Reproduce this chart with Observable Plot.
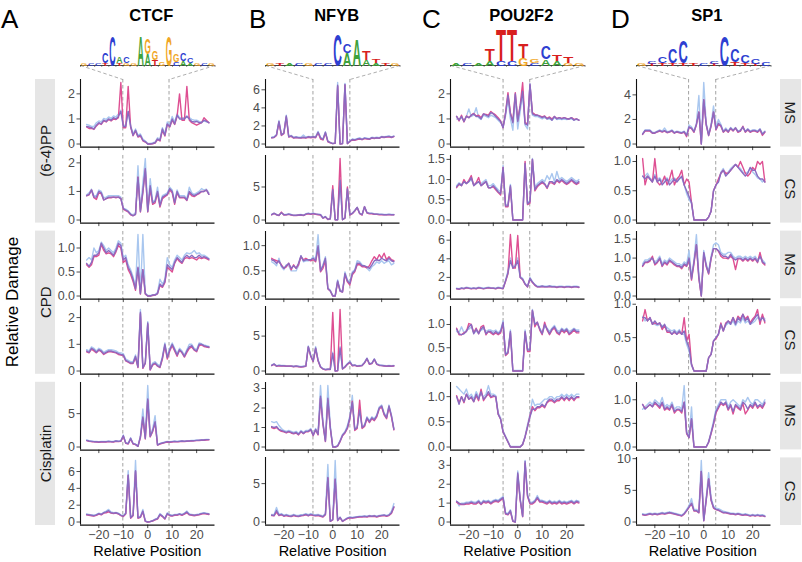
<!DOCTYPE html>
<html><head><meta charset="utf-8">
<script src="https://cdn.jsdelivr.net/npm/d3@7"></script>
<script src="https://cdn.jsdelivr.net/npm/@observablehq/plot@0.6"></script>
<style>
body{margin:0;background:#fff;}
#fig{position:relative;width:802px;height:562px;overflow:hidden;background:#fff;font-family:"Liberation Sans",Arial,sans-serif;}
#fig svg{position:absolute;}
</style></head>
<body><div id="fig"></div>
<script>
// ---------------- DATA ----------------
const positions = [-25,-24,-23,-22,-21,-20,-19,-18,-17,-16,-15,-14,-13,-12,-11,-10,-9,-8,-7,-6,-5,-4,-3,-2,-1,0,1,2,3,4,5,6,7,8,9,10,11,12,13,14,15,16,17,18,19,20,21,22,23,24,25];
const tfNames = ["CTCF","NFYB","POU2F2","SP1"];
const panelLetters = ["A","B","C","D"];
const damageNames = ["(6-4)PP","CPD","Cisplatin"];
const strandNames = ["MS","CS","MS","CS","MS","CS"];
const motifStart = [-10.2,-8.1,-6.0,-6.2];
const motifEnd = [8.7,7.0,4.9,4.9];
const xTicks = [-20,-10,0,10,20];
const yTicksCTCF = [[0,1,2],[0,1,2],[0,0.5,1],[0,1,2],[0,5],[0,2,4,6]];
const yTicksNFYB = [[0,2,4,6],[0,5],[0,0.5,1],[0,5],[0,1,2,3],[0,5]];
const yTicksPOU = [[0,1,2],[0,0.5,1,1.5],[0,2,4,6],[0,0.5,1],[0,0.5,1],[0,1,2,3]];
const yTicksSP1 = [[0,2,4],[0,0.5,1],[0,0.5,1,1.5],[0,0.5,1],[0,0.5,1],[0,5,10]];

// CTCF
const ctcf_pp_ms_mix = [0.7,0.68,0.65,0.6,0.75,0.85,0.8,0.95,0.9,1.0,0.95,1.05,1.0,1.1,1.3,0.7,0.7,1.3,0.7,0.35,0.55,0.3,0.35,0.15,0.1,0.0,0.0,0.02,0.05,0.2,0.15,0.6,0.35,0.8,0.7,1.0,0.8,1.15,1.0,1.0,1.0,1.1,1.0,0.9,0.88,0.9,0.85,0.85,0.95,0.9,0.85];
const ctcf_pp_ms_pink = [0.68,0.62,0.62,0.58,0.72,0.82,0.78,0.92,0.88,0.98,0.92,1.0,0.98,1.05,2.45,0.65,0.65,2.3,0.68,0.33,0.52,0.28,0.32,0.13,0.08,0.0,0.0,0.01,0.04,0.18,0.12,0.55,0.32,0.78,0.68,0.95,0.78,1.1,2.0,0.95,0.95,2.3,0.95,0.85,0.8,0.75,0.8,0.85,1.05,0.95,0.85];
const ctcf_pp_ms_blue = [0.78,0.75,0.7,0.7,0.85,0.92,0.88,1.02,0.98,1.08,1.02,1.12,1.08,1.2,1.35,0.75,0.75,1.3,0.75,0.4,0.6,0.35,0.4,0.2,0.12,0.02,0.02,0.04,0.08,0.25,0.2,0.65,0.42,0.88,0.78,1.1,0.88,1.2,1.05,1.05,1.05,1.12,1.05,0.98,0.95,0.95,0.9,0.88,0.92,0.88,0.85];
const ctcf_pp_cs_mix = [0.85,0.9,1.05,0.8,0.8,1.0,0.95,0.7,0.75,0.8,0.8,0.8,0.8,0.8,0.75,0.4,0.35,0.3,0.2,0.15,0.2,1.5,0.3,1.0,1.8,0.3,1.2,0.6,0.65,1.0,0.5,0.8,0.85,0.9,1.1,1.0,0.6,1.0,0.8,0.8,0.8,0.7,1.0,0.9,0.85,0.9,0.95,1.0,1.0,1.05,0.9];
const ctcf_pp_cs_pink = [0.85,0.88,1.05,0.78,0.72,0.95,0.92,0.7,0.75,0.78,0.78,0.8,0.78,0.8,0.75,0.38,0.33,0.28,0.18,0.15,0.2,1.5,0.28,0.95,1.75,0.28,1.1,0.55,0.6,0.95,0.45,0.75,0.82,0.88,1.05,0.95,0.55,0.95,0.78,0.78,0.78,0.68,0.95,0.85,0.82,0.88,0.92,1.0,1.0,1.05,0.9];
const ctcf_pp_cs_blue = [0.88,0.95,1.08,0.85,0.85,1.05,1.0,0.78,0.8,0.85,0.85,0.85,0.85,0.85,0.8,0.42,0.38,0.32,0.22,0.18,0.25,1.9,0.35,1.3,2.15,0.35,1.45,0.65,0.7,1.15,0.55,0.85,0.9,0.95,1.15,1.05,0.65,1.05,0.85,0.85,0.85,0.75,1.15,0.95,0.9,0.95,1.0,1.1,1.05,1.08,0.95];
const ctcf_cpd_ms_mix = [0.68,0.62,0.7,0.85,0.85,0.9,1.1,1.0,0.9,0.95,0.9,0.85,0.95,1.1,1.05,0.75,0.8,0.6,0.5,0.35,0.15,0.6,0.05,0.55,0.05,0.0,0.0,0.02,0.02,0.05,0.25,0.2,0.3,0.65,0.6,0.55,0.7,0.8,0.75,0.7,0.8,0.85,0.8,0.85,0.8,0.8,0.85,0.8,0.82,0.8,0.77];
const ctcf_cpd_ms_pink = [0.65,0.6,0.65,0.82,0.82,0.85,1.08,0.95,0.88,0.9,0.88,0.82,0.92,1.05,1.0,0.7,0.75,0.55,0.45,0.3,0.12,0.58,0.04,0.55,0.04,0.0,0.0,0.01,0.02,0.05,0.22,0.18,0.28,0.6,0.55,0.5,0.68,0.78,0.72,0.68,0.78,0.8,0.78,0.8,0.78,0.75,0.8,0.78,0.8,0.78,0.75];
const ctcf_cpd_ms_blue = [0.75,0.8,0.75,1.0,0.9,0.95,1.12,1.05,0.95,1.0,0.95,0.9,1.0,1.15,1.1,0.8,0.85,0.65,0.55,0.4,0.18,1.28,0.06,1.28,0.06,0.01,0.01,0.03,0.03,0.08,0.35,0.25,0.35,0.8,0.65,0.6,0.75,0.85,0.8,0.75,0.85,0.9,0.88,0.9,0.95,0.88,0.9,0.85,0.85,0.82,0.78];
const ctcf_cpd_cs_mix = [0.75,0.7,0.85,0.8,0.7,0.8,0.75,0.65,0.7,0.75,0.75,0.72,0.7,0.65,0.62,0.6,0.4,0.35,0.3,0.3,0.55,0.15,2.2,0.12,0.3,1.8,0.05,0.25,0.3,0.2,0.15,0.5,1.0,0.5,0.8,1.0,0.8,0.6,0.8,0.7,0.55,0.75,0.9,0.95,0.8,0.75,1.0,1.0,0.95,0.92,0.9];
const ctcf_cpd_cs_pink = [0.72,0.68,0.82,0.75,0.68,0.78,0.72,0.62,0.68,0.72,0.72,0.7,0.68,0.62,0.6,0.58,0.38,0.33,0.28,0.28,0.5,0.13,2.15,0.1,0.28,1.75,0.04,0.22,0.28,0.18,0.13,0.45,0.95,0.45,0.75,0.95,0.75,0.55,0.78,0.68,0.52,0.7,0.85,0.9,0.78,0.72,0.95,0.98,0.92,0.9,0.88];
const ctcf_cpd_cs_blue = [0.8,0.75,0.9,0.85,0.75,0.85,0.8,0.7,0.75,0.8,0.8,0.78,0.75,0.7,0.68,0.65,0.45,0.4,0.35,0.35,0.6,0.18,2.3,0.15,0.35,1.85,0.07,0.3,0.35,0.25,0.2,0.55,1.05,0.55,0.85,1.05,0.85,0.65,0.85,0.75,0.6,0.8,1.0,1.0,0.85,0.8,1.05,1.02,0.98,0.95,0.92];
const ctcf_cis_ms_mix = [1.0,0.9,0.85,0.8,0.8,0.75,0.8,0.8,0.8,0.85,0.8,0.8,0.9,0.85,0.9,1.7,0.6,0.5,1.3,0.5,0.4,0.1,1.5,4.5,1.3,7.2,1.6,2.4,3.8,0.3,0.5,0.6,0.7,0.8,0.75,0.8,0.85,0.8,0.85,0.9,0.85,0.9,0.9,0.95,0.95,1.0,1.0,1.05,1.05,1.1,1.1];
const ctcf_cis_ms_pink = [0.95,0.85,0.8,0.78,0.75,0.7,0.75,0.78,0.75,0.8,0.78,0.75,0.85,0.8,0.85,1.6,0.55,0.45,1.2,0.45,0.35,0.1,1.4,4.3,1.2,7.0,1.5,2.3,3.6,0.28,0.45,0.55,0.65,0.75,0.72,0.75,0.8,0.78,0.8,0.85,0.82,0.85,0.88,0.9,0.92,0.95,0.98,1.0,1.02,1.05,1.08];
const ctcf_cis_ms_blue = [1.05,0.95,0.9,0.85,0.85,0.8,0.85,0.85,0.85,0.9,0.85,0.85,0.95,0.9,0.95,1.8,0.65,0.55,1.4,0.55,0.45,0.15,1.7,5.7,1.5,9.2,1.9,2.7,4.7,0.35,0.55,0.65,0.75,0.85,0.8,0.85,0.9,0.85,0.9,0.95,0.9,0.95,0.95,1.0,1.0,1.05,1.05,1.1,1.1,1.15,1.15];
const ctcf_cis_cs_mix = [0.9,0.85,0.8,0.75,0.85,1.0,0.9,1.1,1.2,1.35,1.1,1.05,1.1,1.0,0.8,0.7,1.0,5.6,0.5,0.8,6.1,0.5,0.6,1.3,0.1,0.0,0.05,0.15,0.3,0.4,0.9,0.7,0.4,1.0,0.8,0.75,0.85,0.85,0.95,0.85,1.0,1.2,0.9,0.85,0.8,0.85,0.9,1.0,1.05,1.0,0.95];
const ctcf_cis_cs_pink = [0.85,0.8,0.75,0.7,0.8,0.95,0.85,1.05,1.1,1.2,1.05,1.0,1.05,0.95,0.75,0.65,0.95,5.5,0.45,0.75,6.0,0.45,0.55,1.2,0.08,0.0,0.04,0.12,0.25,0.35,0.85,0.65,0.35,0.95,0.75,0.7,0.8,0.8,0.9,0.8,0.95,1.1,0.85,0.8,0.75,0.8,0.85,0.95,1.0,0.95,0.9];
const ctcf_cis_cs_blue = [0.95,0.9,0.85,0.8,0.9,1.05,0.95,1.15,1.3,1.5,1.2,1.1,1.15,1.05,0.85,0.75,1.1,6.1,0.55,0.9,7.3,0.55,0.7,1.5,0.12,0.02,0.07,0.18,0.35,0.45,1.0,0.75,0.45,1.1,0.9,0.8,0.9,0.9,1.0,0.9,1.05,1.3,0.95,0.9,0.85,0.9,0.95,1.05,1.1,1.05,1.0];
// NFYB
const nfyb_pp_ms_mix = [0.7,0.75,1.0,2.5,1.0,1.2,3.1,0.8,0.9,0.7,0.75,0.7,0.7,0.75,0.7,0.8,0.75,0.8,0.75,1.3,0.7,0.5,1.3,0.3,0.15,0.05,0.1,6.5,0.0,0.05,6.6,0.05,0.3,0.5,0.45,0.55,0.6,0.5,0.65,0.6,0.55,0.7,0.65,0.7,0.65,0.8,0.75,0.8,0.85,0.75,0.85];
const nfyb_pp_ms_pink = [0.7,0.72,0.95,2.4,0.95,1.15,3.0,0.78,0.85,0.65,0.72,0.68,0.65,0.72,0.65,0.75,0.7,0.75,0.7,1.25,0.55,0.45,1.2,0.25,0.12,0.04,0.08,6.4,0.0,0.04,6.5,0.04,0.28,0.45,0.42,0.5,0.55,0.48,0.6,0.55,0.52,0.65,0.6,0.68,0.62,0.75,0.72,0.78,0.8,0.72,0.82];
const nfyb_pp_ms_blue = [0.75,0.8,1.05,2.6,1.05,1.25,3.2,0.85,0.95,0.75,0.8,0.75,0.75,1.0,0.75,0.85,0.8,0.85,0.8,1.4,0.75,0.55,1.35,0.35,0.18,0.06,0.12,6.8,0.01,0.06,6.7,0.06,0.35,0.55,0.5,0.6,0.7,0.55,0.7,0.65,0.6,0.75,0.7,0.75,0.7,0.85,0.8,0.85,0.9,0.8,0.9];
const nfyb_pp_cs_mix = [0.8,1.0,0.8,0.7,1.1,0.8,0.8,0.9,0.8,0.7,0.7,0.75,0.8,0.7,0.9,1.0,0.9,1.0,0.9,0.85,0.8,0.3,0.5,0.1,0.2,4.6,0.05,0.05,6.0,0.05,0.3,4.7,0.8,1.0,1.4,1.9,1.0,0.8,2.0,1.1,1.0,1.0,0.9,0.9,0.85,0.85,0.8,0.8,0.85,0.8,0.8];
const nfyb_pp_cs_pink = [0.78,1.0,0.78,0.68,1.2,0.75,0.78,0.85,0.75,0.68,0.68,0.72,0.75,0.68,0.85,0.95,0.85,0.95,0.88,0.8,0.75,0.28,0.45,0.08,0.18,5.2,0.04,0.04,9.3,0.04,0.28,5.0,0.75,0.95,1.35,1.9,0.95,0.75,2.0,1.05,0.95,0.95,0.85,0.85,0.8,0.8,0.78,0.78,0.82,0.78,0.78];
const nfyb_pp_cs_blue = [0.85,1.05,0.85,0.75,1.1,0.85,0.85,0.95,0.85,0.75,0.75,0.8,0.85,0.75,0.95,1.05,0.95,1.05,0.95,0.9,0.85,0.35,0.55,0.12,0.22,4.7,0.06,0.06,6.2,0.06,0.35,4.8,0.85,1.05,1.45,1.95,1.05,0.85,2.05,1.15,1.05,1.05,0.95,0.95,0.9,0.9,0.85,0.85,0.9,0.85,0.85];
const nfyb_cpd_ms_mix = [0.72,0.7,0.65,0.7,0.6,0.55,0.6,0.65,0.55,0.6,0.55,0.65,0.8,0.7,0.72,0.72,0.72,0.75,0.7,1.0,0.5,0.6,0.75,0.15,0.1,0.0,0.0,0.3,0.1,0.08,0.45,0.3,0.25,0.45,0.5,0.65,0.65,0.6,0.6,0.58,0.55,0.62,0.7,0.72,0.7,0.75,0.72,0.7,0.75,0.7,0.68];
const nfyb_cpd_ms_pink = [0.75,0.72,0.7,0.68,0.62,0.55,0.58,0.65,0.52,0.62,0.55,0.62,0.78,0.72,0.75,0.72,0.7,0.72,0.68,0.95,0.48,0.55,0.7,0.14,0.1,0.0,0.0,0.28,0.1,0.08,0.42,0.28,0.22,0.42,0.48,0.62,0.62,0.58,0.58,0.56,0.6,0.7,0.78,0.72,0.82,0.75,0.85,0.72,0.78,0.72,0.7];
const nfyb_cpd_ms_blue = [0.68,0.65,0.6,0.75,0.58,0.52,0.62,0.6,0.5,0.5,0.5,0.6,0.8,0.68,0.7,0.7,0.72,0.78,0.72,1.22,0.52,0.62,0.78,0.16,0.12,0.01,0.01,0.32,0.12,0.1,0.48,0.32,0.28,0.48,0.52,0.7,0.68,0.62,0.6,0.55,0.5,0.58,0.62,0.68,0.65,0.7,0.65,0.68,0.7,0.62,0.65];
const nfyb_cpd_cs_mix = [0.8,1.0,0.7,0.8,0.75,0.75,0.7,0.7,0.7,0.65,0.7,0.65,0.6,0.65,0.7,3.5,2.2,1.4,3.3,1.5,0.6,0.3,0.2,0.25,0.25,2.5,0.0,0.05,3.3,0.3,0.6,1.0,1.3,0.8,0.85,0.7,0.75,0.8,1.2,1.8,1.0,1.1,1.7,1.0,0.85,0.8,0.75,0.7,0.75,0.7,0.75];
const nfyb_cpd_cs_pink = [0.78,0.95,0.68,0.75,0.72,0.72,0.68,0.68,0.68,0.62,0.68,0.62,0.58,0.62,0.68,3.4,2.1,1.35,3.2,1.45,0.55,0.28,0.18,0.22,0.22,8.4,0.0,0.04,8.8,0.28,0.55,0.95,1.2,0.75,0.8,0.68,0.72,0.78,1.15,1.75,0.95,1.05,1.65,0.95,0.8,0.78,0.72,0.68,0.72,0.68,0.72];
const nfyb_cpd_cs_blue = [0.85,1.05,0.75,0.85,0.8,0.8,0.75,0.75,0.75,0.7,0.75,0.7,0.65,0.7,0.75,3.6,2.3,1.5,3.5,1.6,0.65,0.35,0.25,0.3,0.3,2.7,0.02,0.08,3.5,0.35,0.65,1.05,1.4,0.85,0.9,0.75,0.8,0.85,1.25,1.85,1.05,1.15,1.75,1.05,0.9,0.85,0.8,0.75,0.8,0.75,0.8];
const nfyb_cis_ms_mix = [1.05,1.0,1.05,0.9,0.85,0.8,0.75,0.8,0.75,0.7,0.75,0.65,0.8,0.7,0.8,0.8,0.9,0.6,0.9,0.65,2.6,1.2,0.3,2.5,1.0,0.0,0.0,0.05,0.3,0.6,0.75,1.0,1.5,2.3,0.9,1.0,1.9,1.0,1.1,1.5,1.3,1.5,1.4,1.6,2.0,2.1,1.7,1.5,2.1,1.6,0.9];
const nfyb_cis_ms_pink = [1.0,0.95,1.0,0.88,0.8,0.78,0.72,0.78,0.72,0.68,0.72,0.62,0.78,0.68,0.78,0.78,0.88,0.58,0.88,0.62,2.5,1.15,0.28,2.4,0.95,0.0,0.0,0.04,0.28,0.58,0.72,0.95,1.45,2.35,0.85,0.95,2.4,0.95,1.05,1.45,1.25,1.45,1.35,1.55,1.95,2.05,1.65,1.45,2.05,1.55,0.88];
const nfyb_cis_ms_blue = [1.3,1.25,1.3,1.1,0.95,0.85,0.8,0.85,0.8,0.75,0.8,0.7,0.85,0.75,0.85,0.85,0.95,0.65,0.95,0.7,3.15,1.3,0.35,3.15,1.1,0.02,0.02,0.08,0.35,0.65,0.8,1.1,1.6,2.65,0.95,1.05,2.0,1.05,1.15,1.55,1.35,1.55,1.45,1.65,2.05,2.15,1.75,1.55,2.15,1.65,0.95];
const nfyb_cis_cs_mix = [0.9,0.85,1.5,0.9,1.0,0.8,0.9,0.8,0.75,0.9,0.8,0.75,0.85,0.9,1.0,0.85,1.0,0.9,0.85,0.9,0.8,0.7,1.0,5.8,0.1,0.3,5.6,0.2,0.6,0.1,0.3,0.5,0.6,0.55,0.6,0.65,0.7,0.7,0.75,0.7,0.8,0.75,0.8,0.7,0.8,0.85,0.9,0.8,0.9,1.2,2.0];
const nfyb_cis_cs_pink = [0.85,0.8,1.3,0.85,0.95,0.75,0.85,0.75,0.7,0.85,0.75,0.7,0.8,0.85,0.95,0.8,0.95,0.85,0.8,0.85,0.75,0.65,0.95,5.7,0.08,0.28,5.5,0.18,0.55,0.08,0.28,0.45,0.55,0.5,0.55,0.6,0.65,0.65,0.7,0.65,0.75,0.7,0.75,0.65,0.75,0.8,0.85,0.75,0.85,1.1,1.9];
const nfyb_cis_cs_blue = [1.0,0.95,1.9,1.0,1.1,0.9,1.0,0.9,0.85,1.0,0.9,0.85,0.95,1.0,1.1,0.95,1.1,1.0,0.95,1.0,0.9,0.8,1.1,7.5,0.12,0.35,8.0,0.25,0.65,0.12,0.35,0.55,0.65,0.6,0.65,0.7,0.75,0.75,0.8,0.75,0.85,0.8,0.85,0.75,0.85,0.9,0.95,0.85,0.95,1.4,2.4];
// POU2F2
const pou_pp_ms_mix = [1.1,0.95,1.1,0.9,1.1,1.05,1.15,1.2,1.1,1.1,1.0,1.2,1.15,1.1,1.25,1.2,1.1,1.0,0.9,0.65,1.2,1.95,1.2,0.85,2.0,0.9,1.5,2.1,0.8,0.75,2.4,1.2,1.15,1.15,1.1,1.05,1.1,1.0,1.05,0.95,1.1,1.0,1.05,1.0,1.05,1.0,1.0,1.05,0.95,1.0,0.95];
const pou_pp_ms_pink = [1.1,0.92,1.15,0.88,1.12,1.05,1.15,1.22,1.12,1.15,1.05,1.2,1.18,1.15,1.3,1.22,1.15,1.05,0.92,0.65,1.25,2.05,1.25,0.9,2.05,0.95,1.55,2.45,0.85,0.8,2.35,1.25,1.18,1.15,1.12,1.08,1.12,1.02,1.08,1.0,1.1,1.02,1.05,1.02,1.05,1.02,1.0,1.05,0.98,1.0,0.95];
const pou_pp_ms_blue = [1.0,1.0,1.05,0.95,1.1,1.4,1.1,1.15,1.45,1.05,0.98,1.15,1.1,1.05,1.15,1.1,1.05,0.95,0.85,0.7,1.1,1.8,1.0,0.55,1.85,0.6,1.3,2.0,0.75,0.6,2.4,1.15,1.1,1.1,1.05,1.0,1.05,1.0,1.0,0.95,1.05,0.98,1.0,0.98,1.0,0.98,1.0,1.0,0.95,0.98,0.95];
const pou_pp_cs_mix = [0.82,0.9,0.85,0.95,0.9,0.95,1.05,0.85,0.9,0.95,0.85,0.9,0.95,0.8,0.8,0.85,0.78,0.7,0.65,1.3,0.35,0.35,0.85,0.0,0.0,0.0,0.0,0.0,1.4,0.4,0.45,1.5,0.75,0.85,0.9,0.95,0.9,0.8,0.95,0.95,0.9,1.0,0.95,1.0,0.95,0.9,0.95,1.0,0.95,0.9,0.95];
const pou_pp_cs_pink = [0.8,0.88,0.85,1.0,0.9,0.98,1.1,0.85,0.92,1.05,0.85,0.9,0.95,0.8,0.8,0.82,0.75,0.68,0.62,1.3,0.33,0.33,0.82,0.0,0.0,0.0,0.0,0.0,1.45,0.38,0.42,1.5,0.72,0.82,0.88,0.92,0.88,0.78,0.92,0.92,0.88,0.98,0.92,0.98,0.92,0.88,0.92,0.98,0.92,0.88,0.92];
const pou_pp_cs_blue = [0.85,0.92,0.88,0.95,0.92,0.95,1.0,0.88,0.92,0.95,0.9,0.95,1.0,0.85,0.85,0.9,0.82,0.75,0.7,1.35,0.38,0.38,0.88,0.01,0.01,0.01,0.01,0.01,1.4,0.42,0.48,1.52,0.8,0.9,0.95,1.0,0.95,1.1,1.0,1.15,0.95,1.2,1.0,1.05,1.0,0.95,1.0,1.05,1.0,0.95,1.0];
const pou_cpd_ms_mix = [0.8,0.75,0.85,0.8,0.9,0.85,0.8,0.85,0.8,0.9,0.85,0.8,0.85,0.9,0.85,0.85,0.8,0.9,0.85,0.8,1.6,2.5,3.8,3.0,3.2,3.8,2.0,1.8,1.3,1.0,1.9,1.5,1.2,1.0,1.0,1.05,1.0,1.0,1.05,1.0,1.0,0.95,1.0,1.0,0.95,1.0,1.0,0.95,1.0,1.0,0.95];
const pou_cpd_ms_pink = [0.78,0.72,0.82,0.78,0.88,0.82,0.78,0.82,0.78,0.88,0.82,0.78,0.82,0.88,0.82,0.82,0.78,0.88,0.82,0.78,1.55,2.4,6.6,3.0,3.0,6.5,2.0,1.75,1.25,0.98,1.85,1.45,1.15,0.98,0.98,1.02,0.98,0.98,1.02,0.98,0.98,0.92,0.98,0.98,0.92,0.98,0.98,0.92,0.98,0.98,0.92];
const pou_cpd_ms_blue = [0.85,0.8,0.9,0.85,0.95,0.9,0.85,0.9,0.85,0.95,0.9,0.85,0.9,0.95,0.9,0.9,0.85,0.95,0.9,0.85,1.7,2.7,4.1,3.1,3.4,4.1,2.1,1.9,1.35,1.05,2.0,1.55,1.25,1.05,1.05,1.1,1.05,1.05,1.1,1.05,1.05,1.0,1.05,1.05,1.0,1.05,1.05,1.0,1.05,1.05,1.0];
const pou_cpd_cs_mix = [0.9,0.8,0.78,0.8,0.85,0.95,1.0,0.8,0.9,0.8,0.9,0.95,0.8,0.85,0.85,0.8,0.85,0.8,0.85,1.05,0.35,0.4,0.85,0.0,0.0,0.0,0.0,0.0,0.85,0.45,0.45,1.3,1.0,1.05,0.9,0.8,1.0,0.9,0.8,0.9,0.95,0.85,0.8,0.9,0.85,0.9,0.8,0.85,0.9,0.85,0.85];
const pou_cpd_cs_pink = [0.92,0.78,0.78,0.82,0.85,1.02,1.0,0.82,0.92,0.8,0.95,0.98,0.78,0.85,0.82,0.78,0.82,0.78,0.82,1.02,0.33,0.38,0.82,0.0,0.0,0.0,0.0,0.0,0.82,0.42,0.42,1.3,0.95,1.05,0.88,0.78,1.05,0.88,0.78,0.88,0.92,0.82,0.78,0.88,0.82,0.88,0.78,0.82,0.88,0.82,0.82];
const pou_cpd_cs_blue = [0.85,0.82,0.95,0.82,0.88,0.9,0.95,0.82,0.85,0.85,0.88,0.9,0.85,0.88,0.88,0.85,0.88,0.82,0.88,1.08,0.38,0.42,0.88,0.01,0.01,0.01,0.01,0.01,0.88,0.48,0.48,1.32,1.02,1.0,0.92,0.82,0.95,0.92,0.85,0.92,0.98,0.88,0.85,0.92,0.88,0.92,0.85,0.88,0.92,0.88,0.88];
const pou_cis_ms_mix = [1.0,0.85,1.0,0.9,1.05,0.95,1.0,0.9,1.05,0.95,1.1,0.95,1.0,1.1,1.0,1.02,1.0,0.65,0.55,0.3,0.2,0.1,0.0,0.0,0.0,0.0,0.0,0.05,0.2,0.4,0.6,0.75,0.75,0.8,0.8,0.85,0.8,0.9,0.95,0.95,0.9,0.95,0.95,1.0,0.95,1.0,0.95,1.0,0.95,1.0,1.0];
const pou_cis_ms_pink = [1.02,0.88,1.0,0.88,1.05,0.95,0.98,0.9,1.02,0.92,1.15,0.92,1.0,1.05,0.98,1.0,1.0,0.65,0.55,0.3,0.2,0.1,0.0,0.0,0.0,0.0,0.0,0.05,0.2,0.4,0.62,0.8,0.72,0.78,0.78,0.82,0.78,0.88,0.92,0.92,0.88,0.92,0.92,0.98,0.92,0.98,0.92,0.98,0.92,0.98,0.98];
const pou_cis_ms_blue = [1.2,1.15,1.1,1.05,1.15,1.0,1.05,0.95,1.1,1.0,1.05,1.0,1.05,1.22,1.05,1.05,1.02,0.68,0.58,0.32,0.22,0.12,0.01,0.01,0.01,0.01,0.01,0.06,0.22,0.45,0.65,0.95,0.82,0.85,0.85,0.9,0.95,0.95,1.0,1.0,0.95,1.0,1.0,1.05,1.0,1.05,1.0,1.05,1.0,1.05,1.05];
const pou_cis_cs_mix = [1.1,1.0,0.95,0.95,1.0,1.0,1.05,1.0,1.0,1.1,0.95,1.1,1.05,1.1,1.0,1.1,1.15,1.1,1.2,1.3,0.45,0.4,0.6,0.05,0.0,2.6,1.2,0.3,3.2,1.4,1.0,1.0,1.1,1.3,1.1,1.1,1.05,1.0,1.1,1.0,1.05,1.0,1.1,1.0,1.05,1.0,1.05,1.1,1.0,1.1,1.05];
const pou_cis_cs_pink = [1.05,0.95,0.92,0.92,0.95,0.95,1.0,0.95,0.95,1.05,0.92,1.05,1.0,1.05,0.95,1.05,1.1,1.05,1.15,1.25,0.42,0.38,0.55,0.04,0.0,2.5,1.15,0.28,3.1,1.35,0.95,0.95,1.05,1.25,1.05,1.05,1.0,0.95,1.05,0.95,1.0,0.95,1.05,0.95,1.0,0.95,1.0,1.05,0.95,1.05,1.0];
const pou_cis_cs_blue = [1.1,0.85,1.0,1.0,1.05,1.05,1.1,1.05,1.05,1.15,1.0,1.15,1.1,1.15,1.05,1.15,1.2,1.15,1.25,1.35,0.5,0.45,0.65,0.06,0.01,2.7,1.25,0.32,3.25,1.45,1.05,1.05,1.15,1.4,1.15,1.15,1.1,1.05,1.15,1.05,1.1,1.05,1.15,1.05,1.1,1.05,1.1,1.15,1.05,1.15,1.1];
// SP1
const sp1_pp_ms_mix = [0.8,1.1,1.1,1.1,0.9,0.9,1.0,1.1,1.0,1.1,0.95,1.0,1.1,0.9,1.0,0.95,0.9,1.0,0.7,1.4,1.3,1.0,1.6,2.6,0.0,3.6,1.6,0.7,1.5,2.6,1.2,1.7,1.5,1.0,1.2,1.0,1.3,1.1,1.3,1.0,1.1,1.4,1.0,1.2,1.0,1.1,1.1,1.0,1.2,0.8,1.0];
const sp1_pp_ms_pink = [0.78,1.05,1.08,1.05,0.88,0.88,0.98,1.05,0.98,1.05,0.92,0.98,1.05,0.88,0.98,0.92,0.88,0.95,0.6,1.35,1.25,0.95,1.55,2.6,0.0,3.6,1.55,0.68,1.45,2.6,1.15,1.6,1.45,0.95,1.15,0.95,1.25,1.05,1.3,0.95,1.05,1.45,0.95,1.15,0.95,1.05,1.05,0.95,1.15,0.7,0.95];
const sp1_pp_ms_blue = [0.85,1.15,1.15,1.15,0.95,0.95,1.05,1.15,1.05,1.3,1.0,1.05,1.15,0.95,1.05,1.0,0.95,1.05,0.75,1.55,1.4,1.05,1.7,3.95,0.02,5.0,1.7,0.8,1.6,3.1,1.35,2.0,1.6,1.05,1.3,1.05,1.35,1.15,1.35,1.05,1.15,1.3,1.05,1.25,1.05,1.15,1.15,1.05,1.25,0.85,1.05];
const sp1_pp_cs_mix = [0.75,0.7,0.75,0.7,0.65,0.75,0.65,0.7,0.6,0.65,0.7,0.6,0.65,0.7,0.65,0.7,0.75,0.6,0.5,0.4,0.3,0.0,0.0,0.0,0.0,0.0,0.0,0.05,0.15,0.5,0.6,0.65,0.8,0.85,0.75,0.8,0.85,0.9,0.95,0.9,0.85,0.8,0.75,0.8,0.9,0.85,0.85,0.75,0.7,0.7,0.65];
const sp1_pp_cs_pink = [1.05,0.6,0.75,0.7,0.65,1.05,0.65,0.6,0.65,0.75,0.6,0.7,0.85,0.6,0.7,0.75,0.85,0.6,0.7,0.65,0.3,0.0,0.0,0.0,0.0,0.0,0.0,0.05,0.15,0.5,0.6,0.7,0.8,0.85,0.8,0.8,0.85,0.9,0.95,0.9,1.0,0.9,0.8,0.75,0.8,0.9,0.85,1.0,0.95,1.0,0.65];
const sp1_pp_cs_blue = [0.75,0.75,0.8,0.72,0.68,0.78,0.7,0.72,0.65,0.7,0.72,0.65,0.7,0.72,0.68,0.72,0.72,0.6,0.45,0.35,0.28,0.0,0.0,0.0,0.0,0.0,0.0,0.05,0.15,0.5,0.6,0.65,0.82,0.88,0.78,0.82,0.88,0.92,0.95,0.92,0.88,0.82,0.8,0.82,0.88,0.82,0.78,0.72,0.7,0.65,0.7];
const sp1_cpd_ms_mix = [0.8,0.9,0.9,0.95,1.0,0.85,0.9,1.0,0.8,0.9,0.85,0.95,0.9,0.85,0.8,0.8,0.75,0.85,0.8,1.0,0.45,0.9,1.35,0.5,0.0,1.15,0.8,0.6,1.0,1.25,1.25,1.2,1.1,1.05,1.05,1.0,1.1,1.0,0.95,1.0,1.0,0.95,1.0,0.95,1.0,0.95,1.0,0.9,1.05,0.9,0.85];
const sp1_cpd_ms_pink = [0.78,0.88,0.88,0.92,1.05,0.82,0.88,0.98,0.78,0.88,0.82,0.92,0.88,0.82,0.78,0.78,0.72,0.82,0.78,0.95,0.42,0.85,1.35,0.45,0.0,1.12,0.78,0.58,0.98,1.25,1.25,1.18,1.05,1.0,1.0,0.98,1.05,0.98,0.7,0.98,0.98,0.92,0.98,0.92,0.98,0.92,0.98,0.88,1.15,0.88,0.82];
const sp1_cpd_ms_blue = [0.85,0.95,0.95,1.0,1.0,0.9,0.95,1.05,0.85,0.95,0.9,1.0,0.95,0.9,0.85,0.85,0.8,0.9,0.85,1.2,0.5,0.95,1.62,0.55,0.02,1.2,0.85,0.65,1.05,1.35,1.4,1.35,1.15,1.1,1.1,1.15,1.15,1.05,1.0,1.05,1.05,1.0,1.05,1.0,1.05,1.0,1.05,0.95,1.05,0.95,0.88];
const sp1_cpd_cs_mix = [0.8,0.8,0.75,0.8,0.7,0.75,0.7,0.72,0.65,0.7,0.6,0.6,0.55,0.6,0.55,0.6,0.55,0.6,0.45,0.35,0.1,0.0,0.0,0.0,0.0,0.0,0.0,0.2,0.25,0.45,0.5,0.55,0.7,0.6,0.7,0.75,0.7,0.8,0.7,0.8,0.75,0.85,0.75,0.8,0.7,0.75,0.8,0.85,0.75,0.8,0.75];
const sp1_cpd_cs_pink = [0.75,0.92,0.75,0.8,0.7,0.72,0.7,0.72,0.62,0.68,0.58,0.58,0.55,0.58,0.55,0.58,0.55,0.8,0.45,0.55,0.1,0.0,0.0,0.0,0.0,0.0,0.0,0.2,0.25,0.45,0.48,0.55,0.72,0.6,0.72,0.75,0.72,0.8,0.72,0.82,0.78,0.85,0.78,0.82,0.72,0.78,0.82,0.92,0.7,0.85,0.72];
const sp1_cpd_cs_blue = [0.82,0.75,0.78,0.78,0.72,0.7,0.68,0.7,0.68,0.68,0.65,0.62,0.6,0.62,0.58,0.62,0.55,0.55,0.4,0.3,0.08,0.0,0.0,0.0,0.0,0.0,0.0,0.2,0.25,0.45,0.5,0.55,0.7,0.62,0.68,0.72,0.7,0.75,0.68,0.75,0.72,0.8,0.72,0.75,0.7,0.72,0.75,0.8,0.78,0.82,0.78];
const sp1_cis_ms_mix = [0.9,0.8,0.85,0.9,0.85,0.95,0.9,0.85,0.95,0.8,0.85,0.8,0.9,0.75,0.8,0.8,0.75,0.95,0.3,0.2,0.6,0.0,0.0,0.0,0.0,0.0,0.0,0.1,0.3,0.5,0.75,0.85,0.95,0.9,0.95,0.8,0.9,0.75,0.9,0.85,0.8,0.95,0.9,0.8,0.9,0.85,0.95,0.85,0.9,0.85,0.95];
const sp1_cis_ms_pink = [0.9,0.82,0.85,0.9,0.85,0.92,0.88,0.82,0.92,0.78,0.82,0.78,0.88,0.72,0.78,0.78,0.72,0.95,0.28,0.2,0.58,0.0,0.0,0.0,0.0,0.0,0.0,0.1,0.28,0.48,0.72,0.82,0.92,0.88,0.92,0.78,0.88,0.7,0.88,0.82,0.78,0.92,0.7,0.78,0.88,0.82,0.92,0.82,0.88,0.82,0.92];
const sp1_cis_ms_blue = [0.8,0.85,0.9,0.95,0.9,1.0,0.95,0.9,1.05,0.85,0.9,0.85,0.95,0.8,0.85,0.85,0.8,1.3,0.32,0.22,0.85,0.0,0.0,0.0,0.0,0.0,0.0,0.12,0.32,0.55,0.8,0.9,1.0,1.0,1.0,0.85,0.95,1.0,0.95,0.9,0.85,1.0,0.95,1.05,0.95,0.9,1.0,1.0,0.95,0.9,1.0];
const sp1_cis_cs_mix = [1.2,1.1,1.2,1.3,1.2,1.3,1.2,1.3,1.4,1.3,1.4,1.5,1.4,1.3,1.2,1.1,1.0,1.3,1.8,2.4,3.0,1.8,1.8,1.5,8.0,0.2,3.5,6.8,3.5,2.3,2.0,1.9,1.7,1.5,1.5,1.4,1.3,1.3,1.2,1.3,1.2,1.1,1.2,1.1,1.0,1.1,1.0,1.1,1.0,1.05,0.9];
const sp1_cis_cs_pink = [1.15,1.05,1.15,1.25,1.15,1.25,1.15,1.25,1.35,1.25,1.35,1.45,1.35,1.25,1.15,1.05,0.95,1.25,1.75,2.3,2.9,1.75,1.75,1.45,8.0,0.2,3.4,6.8,3.4,2.2,1.95,1.85,1.65,1.45,1.45,1.35,1.25,1.25,1.15,1.25,1.15,1.05,1.15,1.05,0.95,1.05,0.95,1.05,0.95,1.0,0.85];
const sp1_cis_cs_blue = [1.3,1.2,1.3,1.4,1.3,1.4,1.3,1.4,1.5,1.4,1.5,1.6,1.5,1.4,1.3,1.2,1.1,1.4,2.0,2.6,3.7,2.0,2.0,1.7,9.7,0.3,3.9,7.8,3.9,2.5,2.2,2.1,1.9,1.7,1.6,1.5,1.4,1.4,1.3,1.4,1.3,1.2,1.3,1.2,1.1,1.2,1.1,1.2,1.1,1.15,1.0];

// Sequence logos: [motif position, letter, height] listed bottom-to-top
const logoLength = [19, 14, 12, 13];
const ctcfLogo = [[1,"G",2],[2,"C",2.5],[3,"C",3],[4,"T",3],[4,"C",11],[5,"C",31],[6,"T",3],[6,"A",7],[7,"G",3],[7,"C",7],[8,"G",3],[9,"A",30],[10,"A",12],[10,"G",16],[11,"T",6],[11,"G",9],[12,"G",4],[13,"G",30],[14,"C",4],[14,"G",8],[15,"A",5],[15,"C",8],[16,"A",3],[16,"C",5],[17,"G",3],[18,"C",2.5],[19,"G",2.5]];
const nfybLogo = [[1,"G",2],[2,"T",2],[3,"A",2],[4,"C",2],[5,"G",2.5],[6,"C",3],[7,"C",3],[8,"C",32],[9,"A",13],[9,"C",9],[10,"A",27],[11,"A",6],[11,"T",9],[12,"A",3],[12,"T",4],[13,"T",3],[14,"G",2.5]];
const pouLogo = [[1,"A",2],[2,"C",2.5],[3,"A",3],[4,"A",5],[4,"T",12],[5,"C",5],[5,"T",32],[6,"C",5],[6,"T",32],[7,"G",8],[7,"T",15],[8,"C",3],[8,"G",4],[9,"A",7],[9,"C",13],[10,"A",5],[10,"T",6],[11,"G",3],[11,"T",7],[12,"G",2.5]];
const sp1Logo = [[1,"G",2],[2,"T",2],[2,"C",3],[3,"T",3],[3,"C",7],[4,"T",3],[4,"C",15],[5,"T",3],[5,"C",23],[6,"T",3],[7,"C",2],[8,"T",2],[8,"C",3],[9,"C",30],[10,"T",4],[10,"C",13],[11,"T",3],[11,"C",8],[12,"T",2],[12,"C",5],[13,"C",4]];
const letterColors = {A:"#3fa23c", C:"#2e3fd1", G:"#f0a625", T:"#d81f1f"};

// ---------------- ASSEMBLY ----------------
const mixSeries = [
 [ctcf_pp_ms_mix,ctcf_pp_cs_mix,ctcf_cpd_ms_mix,ctcf_cpd_cs_mix,ctcf_cis_ms_mix,ctcf_cis_cs_mix],
 [nfyb_pp_ms_mix,nfyb_pp_cs_mix,nfyb_cpd_ms_mix,nfyb_cpd_cs_mix,nfyb_cis_ms_mix,nfyb_cis_cs_mix],
 [pou_pp_ms_mix,pou_pp_cs_mix,pou_cpd_ms_mix,pou_cpd_cs_mix,pou_cis_ms_mix,pou_cis_cs_mix],
 [sp1_pp_ms_mix,sp1_pp_cs_mix,sp1_cpd_ms_mix,sp1_cpd_cs_mix,sp1_cis_ms_mix,sp1_cis_cs_mix]];
const pinkSeries = [
 [ctcf_pp_ms_pink,ctcf_pp_cs_pink,ctcf_cpd_ms_pink,ctcf_cpd_cs_pink,ctcf_cis_ms_pink,ctcf_cis_cs_pink],
 [nfyb_pp_ms_pink,nfyb_pp_cs_pink,nfyb_cpd_ms_pink,nfyb_cpd_cs_pink,nfyb_cis_ms_pink,nfyb_cis_cs_pink],
 [pou_pp_ms_pink,pou_pp_cs_pink,pou_cpd_ms_pink,pou_cpd_cs_pink,pou_cis_ms_pink,pou_cis_cs_pink],
 [sp1_pp_ms_pink,sp1_pp_cs_pink,sp1_cpd_ms_pink,sp1_cpd_cs_pink,sp1_cis_ms_pink,sp1_cis_cs_pink]];
const blueSeries = [
 [ctcf_pp_ms_blue,ctcf_pp_cs_blue,ctcf_cpd_ms_blue,ctcf_cpd_cs_blue,ctcf_cis_ms_blue,ctcf_cis_cs_blue],
 [nfyb_pp_ms_blue,nfyb_pp_cs_blue,nfyb_cpd_ms_blue,nfyb_cpd_cs_blue,nfyb_cis_ms_blue,nfyb_cis_cs_blue],
 [pou_pp_ms_blue,pou_pp_cs_blue,pou_cpd_ms_blue,pou_cpd_cs_blue,pou_cis_ms_blue,pou_cis_cs_blue],
 [sp1_pp_ms_blue,sp1_pp_cs_blue,sp1_cpd_ms_blue,sp1_cpd_cs_blue,sp1_cis_ms_blue,sp1_cis_cs_blue]];
const yTicksAll = [yTicksCTCF, yTicksNFYB, yTicksPOU, yTicksSP1];
const logos = [ctcfLogo, nfybLogo, pouLogo, sp1Logo];

const bad = [];
["mix","pink","blue"].forEach((nm,k)=>[mixSeries,pinkSeries,blueSeries][k].forEach((col,c)=>col.forEach((arr,r)=>{ if(arr.length!==positions.length) bad.push(nm+" c"+c+" r"+r+" len "+arr.length); })));
if (bad.length) throw new Error("Length mismatch: "+bad.join("; "));

// ---------------- LAYOUT ----------------
const FONT = '"Liberation Sans", Arial, Helvetica, sans-serif';
const fig = document.getElementById("fig");
const colLeft = [80, 265.4, 450, 635.5];
const panelW = 134.5;
const rowTop = [79, 155, 230.6, 306.2, 381.8, 457.4];
const panelH = 67.6;
const xDomain = [-27.5, 27.5];
const mL = 40, mR = 3;

// background layer: strips and labels
const bg = d3.select(fig).append("svg").attr("width",802).attr("height",562)
  .style("left","0px").style("top","0px").style("font-family",FONT);
rowTop.forEach((t,r)=>{
  bg.append("rect").attr("x",780).attr("y",t).attr("width",21).attr("height",panelH).attr("fill","#e6e6e6");
  bg.append("text").attr("transform",`translate(790.5,${t+panelH/2}) rotate(90)`).attr("text-anchor","middle")
    .attr("dy","0.36em").attr("font-size",15).attr("fill","#1a1a1a").text(strandNames[r]);
});
damageNames.forEach((nm,k)=>{
  const t = rowTop[2*k], b = rowTop[2*k+1]+panelH;
  bg.append("rect").attr("x",35).attr("y",t).attr("width",20).attr("height",b-t).attr("fill","#e6e6e6");
  bg.append("text").attr("transform",`translate(45.5,${(t+b)/2}) rotate(-90)`).attr("text-anchor","middle")
    .attr("dy","0.36em").attr("font-size",15).attr("fill","#1a1a1a").text(nm);
});
bg.append("text").attr("transform","translate(17.5,302) rotate(-90)").attr("text-anchor","middle")
  .attr("font-size",17).attr("fill","#000").text("Relative Damage");
const letterX = [1, 249, 422, 611];
tfNames.forEach((nm,c)=>{
  bg.append("text").attr("x",letterX[c]).attr("y",28).attr("font-size",26).attr("fill","#000").text(panelLetters[c]);
  bg.append("text").attr("x",colLeft[c]+panelW/2+4).attr("y",21).attr("text-anchor","middle")
    .attr("font-size",16.5).attr("font-weight","bold").attr("fill","#000").text(nm);
  bg.append("text").attr("x",colLeft[c]+panelW/2).attr("y",556).attr("text-anchor","middle")
    .attr("font-size",14.5).attr("fill","#000").text("Relative Position");
});

function place(svg, left, top){
  svg.style.position = "absolute";
  svg.style.left = left + "px";
  svg.style.top = top + "px";
  fig.appendChild(svg);
}

// panels
for (let c = 0; c < 4; c++) {
  for (let r = 0; r < 6; r++) {
    const mix = mixSeries[c][r], pink = pinkSeries[c][r], blue = blueSeries[c][r];
    const rows = positions.map((x,i)=>({x, mix:mix[i], pink:pink[i], blue:blue[i]}));
    const all = mix.concat(pink, blue);
    const lo = Math.min(0, d3.min(all)), hi = d3.max(all);
    const pad = (hi-lo)*0.05;
    const yDom = [lo-pad, hi+pad];
    const ticks = yTicksAll[c][r];
    const dec = ticks.some(t=>!Number.isInteger(t));
    const mT = 1, mB = r===5 ? 26 : 6;
    const svg = Plot.plot({
      width: panelW+mL+mR, height: panelH+mT+mB,
      marginLeft: mL, marginRight: mR, marginTop: mT, marginBottom: mB,
      style: {fontFamily: FONT, fontSize: "12.5px", color: "#4d4d4d", background: "transparent", overflow: "visible"},
      x: {domain: xDomain, ticks: xTicks, tickSize: 3.5, tickPadding: 2, label: null,
          tickFormat: r===5 ? d3.format("d") : () => ""},
      y: {domain: yDom, ticks: ticks, tickSize: 3.5, tickPadding: 2, label: null,
          tickFormat: dec ? d3.format(".1f") : d3.format("d")},
      marks: [
        Plot.ruleX([motifStart[c], motifEnd[c]], {stroke:"#8c8c8c", strokeWidth:0.8, strokeDasharray:"3.5,2.5"}),
        Plot.line(rows, {x:"x", y:"blue", stroke:"#a9c7ef", strokeWidth:1.4}),
        Plot.line(rows, {x:"x", y:"pink", stroke:"#de4f92", strokeWidth:1.4}),
        Plot.line(rows, {x:"x", y:"mix", stroke:"#8a6bc1", strokeWidth:1.4}),
        Plot.ruleX([xDomain[0]], {stroke:"#111", strokeWidth:1.1}),
        Plot.ruleY([yDom[0]], {stroke:"#111", strokeWidth:1.1})
      ]
    });
    place(svg, colLeft[c]-mL, rowTop[r]-mT);
  }
}

// logos
const glyphW = {A:7.22, C:7.22, G:7.78, T:6.11};
for (let c = 0; c < 4; c++) {
  const N = logoLength[c];
  const slot = 55 / N;
  const cum = {};
  const letters = logos[c].map(([p,L,h]) => {
    const y0 = cum[p] || 0; cum[p] = y0 + h;
    return {x: xDomain[0] + (p-0.5)*slot, y: y0, L, h, color: letterColors[L]};
  });
  const tickPos = d3.range(N+1).map(i => xDomain[0] + i*slot);
  const slotPx = panelW / N;
  const links = [{x1: xDomain[0], y1: 0, x2: motifStart[c], y2: -14}, {x1: xDomain[1], y1: 0, x2: motifEnd[c], y2: -14}];
  const svg = Plot.plot({
    width: panelW+mL+mR, height: 51, marginLeft: mL, marginRight: mR, marginTop: 0, marginBottom: 0,
    style: {background: "transparent", overflow: "visible", fontFamily: FONT},
    x: {domain: xDomain, axis: null}, y: {domain: [-14, 37], axis: null},
    marks: [
      Plot.link(links, {x1:"x1", y1:"y1", x2:"x2", y2:"y2", stroke:"#999", strokeWidth:0.8, strokeDasharray:"3.5,2.5"}),
      Plot.ruleY([0], {x1: xDomain[0], x2: xDomain[1], stroke:"#444", strokeWidth:1}),
      Plot.ruleX(tickPos, {y1: -1.8, y2: 0, stroke:"#444", strokeWidth:0.7}),
      Plot.text(letters, {x:"x", y:"y", text:"L", fill:"color", fontSize:10, fontWeight:"bold", lineAnchor:"bottom", textAnchor:"middle"})
    ]
  });
  svg.querySelectorAll('g[aria-label="text"] text').forEach((t,i) => {
    const d = letters[i];
    const sx = slotPx*0.9/glyphW[d.L];
    const sy = d.h/7.16;
    t.setAttribute("transform", (t.getAttribute("transform")||"") + ` scale(${sx.toFixed(3)},${sy.toFixed(3)})`);
  });
  place(svg, colLeft[c]-mL, 28);
}
</script>
</body></html>
